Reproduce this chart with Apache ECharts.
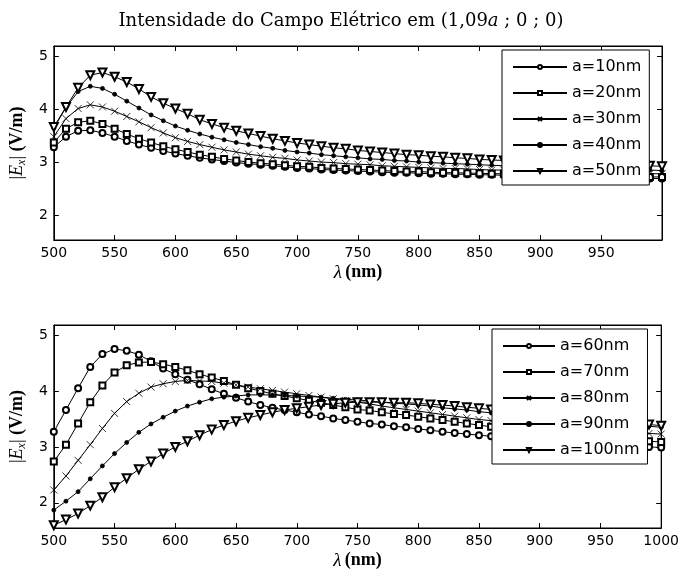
<!DOCTYPE html>
<html><head><meta charset="utf-8">
<script src="https://cdn.jsdelivr.net/npm/echarts@6/dist/echarts.min.js"></script>
<style>html,body{margin:0;padding:0;background:#fff}#c{width:682px;height:579px}</style>
</head><body><div id="c"></div>
<script>
const lambda = [500,510,520,530,540,550,560,570,580,590,600,610,620,630,640,650,660,670,680,690,700,710,720,730,740,750,760,770,780,790,800,810,820,830,840,850,860,870,880,890,900,910,920,930,940,950,960,970,980,990,1000];
const xTicks = [500,550,600,650,700,750,800,850,900,950,1000];
const yTicks = [2,3,4,5];
const topNames = ['a=10nm','a=20nm','a=30nm','a=40nm','a=50nm'];
const botNames = ['a=60nm','a=70nm','a=80nm','a=90nm','a=100nm'];
const a10 = [3.28,3.48,3.59,3.60,3.55,3.48,3.40,3.33,3.27,3.21,3.16,3.12,3.08,3.05,3.02,2.99,2.97,2.95,2.93,2.91,2.89,2.88,2.86,2.85,2.84,2.83,2.82,2.81,2.80,2.80,2.79,2.78,2.78,2.77,2.77,2.76,2.76,2.75,2.75,2.74,2.74,2.73,2.73,2.72,2.72,2.71,2.71,2.70,2.70,2.69,2.69];
const a20 = [3.37,3.63,3.75,3.78,3.72,3.63,3.53,3.44,3.37,3.30,3.24,3.19,3.14,3.10,3.06,3.03,3.00,2.98,2.96,2.94,2.92,2.91,2.89,2.88,2.87,2.86,2.85,2.84,2.83,2.82,2.82,2.81,2.80,2.80,2.79,2.79,2.78,2.78,2.77,2.77,2.76,2.76,2.75,2.75,2.74,2.74,2.74,2.73,2.73,2.72,2.72];
const a30 = [3.48,3.82,4.01,4.08,4.04,3.96,3.86,3.76,3.65,3.55,3.46,3.39,3.33,3.28,3.23,3.19,3.15,3.12,3.09,3.07,3.04,3.02,3.00,2.99,2.97,2.96,2.95,2.93,2.92,2.91,2.90,2.89,2.88,2.88,2.87,2.86,2.85,2.85,2.84,2.83,2.83,2.82,2.82,2.81,2.81,2.80,2.80,2.79,2.79,2.78,2.78];
const a40 = [3.64,4.03,4.33,4.43,4.39,4.28,4.15,4.02,3.89,3.78,3.68,3.60,3.53,3.47,3.42,3.37,3.33,3.29,3.26,3.22,3.19,3.17,3.14,3.12,3.10,3.08,3.06,3.05,3.03,3.02,3.00,2.99,2.98,2.97,2.96,2.95,2.94,2.93,2.92,2.91,2.90,2.90,2.89,2.88,2.88,2.87,2.86,2.86,2.85,2.85,2.84];
const a50 = [3.66,4.04,4.40,4.64,4.69,4.61,4.51,4.38,4.23,4.11,4.01,3.91,3.80,3.72,3.65,3.59,3.54,3.49,3.44,3.40,3.36,3.33,3.30,3.27,3.25,3.22,3.20,3.18,3.16,3.14,3.13,3.11,3.10,3.08,3.07,3.05,3.04,3.03,3.02,3.01,3.00,2.99,2.98,2.97,2.96,2.95,2.95,2.94,2.93,2.93,2.92];
const a60 = [3.27,3.66,4.05,4.43,4.66,4.75,4.72,4.65,4.53,4.40,4.30,4.20,4.12,4.03,3.95,3.88,3.81,3.75,3.70,3.66,3.62,3.58,3.55,3.51,3.48,3.45,3.42,3.40,3.37,3.35,3.32,3.30,3.27,3.25,3.23,3.21,3.19,3.17,3.16,3.14,3.12,3.11,3.09,3.08,3.06,3.05,3.04,3.02,3.01,3.00,2.99];
const a70 = [2.74,3.04,3.42,3.80,4.10,4.33,4.46,4.51,4.52,4.48,4.43,4.37,4.30,4.24,4.18,4.11,4.05,4.00,3.95,3.91,3.87,3.83,3.79,3.75,3.71,3.67,3.65,3.62,3.59,3.57,3.54,3.51,3.48,3.45,3.42,3.39,3.36,3.34,3.31,3.29,3.27,3.25,3.23,3.21,3.19,3.17,3.15,3.13,3.12,3.10,3.09];
const a80 = [2.23,2.48,2.76,3.04,3.33,3.60,3.81,3.96,4.07,4.13,4.17,4.19,4.18,4.17,4.14,4.11,4.07,4.04,4.01,3.98,3.95,3.92,3.89,3.86,3.83,3.80,3.77,3.73,3.70,3.67,3.64,3.61,3.58,3.55,3.52,3.49,3.47,3.45,3.43,3.41,3.39,3.37,3.35,3.34,3.32,3.30,3.29,3.27,3.26,3.24,3.23];
const a90 = [1.87,2.03,2.20,2.43,2.66,2.88,3.08,3.26,3.41,3.53,3.64,3.73,3.80,3.86,3.89,3.91,3.93,3.93,3.93,3.92,3.91,3.90,3.89,3.87,3.85,3.84,3.82,3.80,3.78,3.77,3.75,3.73,3.70,3.68,3.66,3.63,3.61,3.59,3.57,3.55,3.53,3.51,3.49,3.47,3.46,3.44,3.42,3.40,3.38,3.37,3.35];
const a100 = [1.60,1.70,1.81,1.95,2.10,2.28,2.44,2.60,2.74,2.88,3.00,3.10,3.21,3.31,3.39,3.46,3.52,3.57,3.62,3.66,3.69,3.72,3.75,3.77,3.79,3.80,3.80,3.80,3.79,3.79,3.78,3.76,3.75,3.73,3.71,3.69,3.67,3.65,3.63,3.61,3.58,3.56,3.54,3.52,3.50,3.48,3.46,3.44,3.42,3.40,3.38];

const topData = [a10,a20,a30,a40,a50];
const botData = [a60,a70,a80,a90,a100];
const symbols = [
  {symbol:'emptyCircle', size:6, rot:0},
  {symbol:'emptyRect', size:6, rot:0},
  {symbol:'path://M0,0L8,8M8,0L0,8', size:7, rot:0},
  {symbol:'circle', size:4, rot:0},
  {symbol:'emptyTriangle', size:8, rot:180}
];
const black = '#000';
const tickFont = {fontFamily:'DejaVu Sans', fontSize:14, color:black};

function mkSeries(names, data, gi){
  return names.map((n,i)=>({
    name:n, type:'line', xAxisIndex:gi*2, yAxisIndex:gi*2,
    data: lambda.map((x,k)=>[x,data[i][k]]),
    symbol: symbols[i].symbol, symbolSize: symbols[i].size, symbolRotate: symbols[i].rot,
    showSymbol:true, showAllSymbol:true, animation:false, silent:true,
    lineStyle:{color:black,width:1},
    itemStyle:{color:black,borderColor:black,borderWidth:0.8}
  }));
}
function xAxes(gi, showMax){
  return [
    {gridIndex:gi, type:'value', position:'bottom', min:500, max:1000, interval:50,
     axisLine:{show:true,onZero:false,lineStyle:{color:black,width:1}},
     axisTick:{show:true,inside:true,length:5,lineStyle:{color:black}},
     axisLabel:Object.assign({margin:6,showMaxLabel:showMax,showMinLabel:true,formatter:v=>String(v)},tickFont),
     splitLine:{show:false},
     name:'{l|λ} {b|(nm)}', nameLocation:'middle', nameGap:23,
     nameTextStyle:{rich:{l:{fontFamily:'Liberation Serif',fontStyle:'italic',fontSize:19,color:black},
                          b:{fontFamily:'Liberation Serif',fontWeight:'bold',fontSize:18,color:black}}}},
    {gridIndex:gi, type:'value', position:'top', min:500, max:1000, interval:50,
     axisLine:{show:true,onZero:false,lineStyle:{color:black,width:1}},
     axisTick:{show:true,inside:true,length:5,lineStyle:{color:black}},
     axisLabel:{show:false}, splitLine:{show:false}}
  ];
}
function yAxes(gi, mn, mx){
  return [
    {gridIndex:gi, type:'value', position:'left', min:mn, max:mx,
     axisLine:{show:true,onZero:false,lineStyle:{color:black,width:1}},
     axisTick:{show:true,inside:true,length:5,lineStyle:{color:black},customValues:yTicks},
     axisLabel:Object.assign({margin:6,customValues:yTicks},tickFont),
     splitLine:{show:false},
     name:'{n||}{e|E}{s|x}{n|| }{b|(V/m)}', nameLocation:'middle', nameRotate:90, nameGap:20,
     nameTextStyle:{rich:{
       n:{fontFamily:'Liberation Serif',fontSize:18,color:black,lineHeight:22},
       e:{fontFamily:'Liberation Serif',fontStyle:'italic',fontSize:18,color:black,lineHeight:22},
       s:{fontFamily:'Liberation Serif',fontStyle:'italic',fontSize:12,color:black,lineHeight:22,verticalAlign:'bottom'},
       b:{fontFamily:'Liberation Serif',fontWeight:'bold',fontSize:18,color:black,lineHeight:22}}}},
    {gridIndex:gi, type:'value', position:'right', min:mn, max:mx,
     axisLine:{show:true,onZero:false,lineStyle:{color:black,width:1}},
     axisTick:{show:true,inside:true,length:5,lineStyle:{color:black},customValues:yTicks},
     axisLabel:{show:false}, splitLine:{show:false}}
  ];
}
function legend(names, left, top, w){
  return {data:names, orient:'vertical', left:left, top:top,
    backgroundColor:'#fff', borderColor:black, borderWidth:1, padding:[9,8,6,10],
    itemWidth:w, itemHeight:5, itemGap:10, selectedMode:false, z:10,
    textStyle:{fontFamily:'DejaVu Sans', fontSize:16, color:black, lineHeight:16}};
}

const chart = echarts.init(document.getElementById('c'), null, {renderer:'canvas'});
chart.setOption({
  backgroundColor:'#fff',
  animation:false,
  title:{text:'{n|Intensidade do Campo Elétrico em (1,09}{i|a}{n| ; 0 ; 0)}', left:'center', top:7,
    textStyle:{fontWeight:'normal', rich:{n:{fontFamily:'DejaVu Serif',fontSize:18,fontWeight:'normal',color:black},
                     i:{fontFamily:'DejaVu Serif',fontStyle:'italic',fontWeight:'normal',fontSize:18,color:black}}}},
  grid:[
    {left:53, top:46, width:609, height:194, show:true, borderColor:black, borderWidth:1, backgroundColor:'#fff'},
    {left:53, top:325, width:609, height:203, show:true, borderColor:black, borderWidth:1, backgroundColor:'#fff'}
  ],
  xAxis:[...xAxes(0,false), ...xAxes(1,true)],
  yAxis:[...yAxes(0,1.53,5.19), ...yAxes(1,1.55,5.18)],
  legend:[legend(topNames,502,50,54), legend(botNames,492,329,52)],
  series:[...mkSeries(topNames,topData,0), ...mkSeries(botNames,botData,1)]
});
</script></body></html>
